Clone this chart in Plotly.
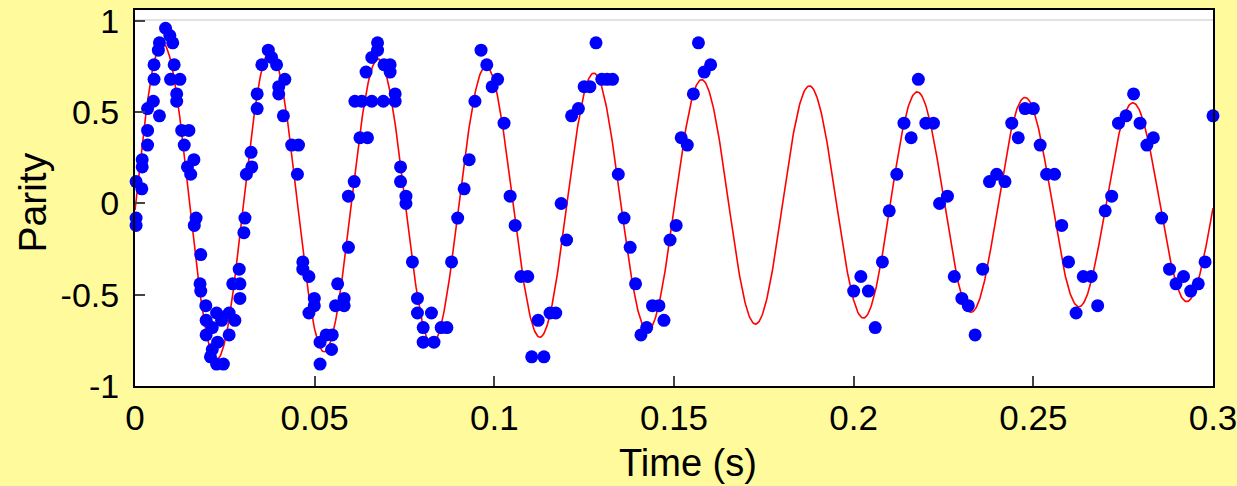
import numpy as np
import plotly.graph_objects as go

# Measured parity versus evolution time
time_s = [
    0.0003, 0.0003, 0.0003, 0.0019, 0.0020, 0.0020, 0.0035, 0.0035, 0.0035, 0.0051,
    0.0053, 0.0053, 0.0065, 0.0068, 0.0068, 0.0085, 0.0097, 0.0099, 0.0105, 0.0109,
    0.0116, 0.0116, 0.0125, 0.0130, 0.0137, 0.0146, 0.0150, 0.0155, 0.0164, 0.0170,
    0.0165, 0.0183, 0.0181, 0.0183, 0.0197, 0.0198, 0.0198, 0.0215, 0.0210, 0.0215,
    0.0227, 0.0227, 0.0230, 0.0246, 0.0241, 0.0262, 0.0262, 0.0272, 0.0278, 0.0290,
    0.0292, 0.0292, 0.0303, 0.0306, 0.0310, 0.0323, 0.0325, 0.0340, 0.0340, 0.0353,
    0.0371, 0.0380, 0.0394, 0.0400, 0.0400, 0.0413, 0.0417, 0.0436, 0.0455, 0.0452,
    0.0467, 0.0467, 0.0484, 0.0484, 0.0499, 0.0499, 0.0515, 0.0515, 0.0532, 0.0547,
    0.0549, 0.0558, 0.0564, 0.0582, 0.0582, 0.0594, 0.0594, 0.0610, 0.0612, 0.0626,
    0.0631, 0.0643, 0.0647, 0.0659, 0.0659, 0.0675, 0.0675, 0.0691, 0.0693, 0.0710,
    0.0710, 0.0724, 0.0724, 0.0739, 0.0739, 0.0754, 0.0754, 0.0772, 0.0786, 0.0786,
    0.0802, 0.0802, 0.0825, 0.0832, 0.0852, 0.0868, 0.0881, 0.0898, 0.0916, 0.0930,
    0.0946, 0.0963, 0.0979, 0.0994, 0.1009, 0.1027, 0.1044, 0.1058, 0.1074, 0.1093,
    0.1104, 0.1122, 0.1138, 0.1155, 0.1171, 0.1186, 0.1201, 0.1215, 0.1234, 0.1250,
    0.1266, 0.1283, 0.1299, 0.1314, 0.1329, 0.1345, 0.1361, 0.1378, 0.1393, 0.1408,
    0.1424, 0.1440, 0.1458, 0.1472, 0.1489, 0.1506, 0.1520, 0.1537, 0.1554, 0.1568,
    0.1584, 0.1602,
    0.2000, 0.2020, 0.2041, 0.2060, 0.2080, 0.2099, 0.2120, 0.2140, 0.2160, 0.2180,
    0.2201, 0.2222, 0.2239, 0.2261, 0.2280, 0.2301, 0.2319, 0.2338, 0.2359, 0.2378,
    0.2398, 0.2421, 0.2440, 0.2458, 0.2477, 0.2500, 0.2519, 0.2537, 0.2559, 0.2579,
    0.2598, 0.2619, 0.2639, 0.2661, 0.2679, 0.2700, 0.2718, 0.2737, 0.2758, 0.2779,
    0.2797, 0.2816, 0.2834, 0.2857, 0.2879, 0.2897, 0.2918, 0.2938, 0.2959, 0.2978,
    0.3000,
]
parity = [
    0.12, -0.08, -0.12, 0.08, 0.24, 0.20, 0.40, 0.32, 0.52, 0.56,
    0.68, 0.76, 0.84, 0.48, 0.88, 0.96, 0.92, 0.68, 0.88, 0.76,
    0.60, 0.56, 0.68, 0.40, 0.32, 0.20, 0.40, 0.16, 0.24, -0.08,
    -0.12, -0.28, -0.44, -0.48, -0.56, -0.64, -0.72, -0.68, -0.84, -0.80,
    -0.60, -0.88, -0.76, -0.88, -0.64, -0.60, -0.72, -0.44, -0.64, -0.36,
    -0.44, -0.52, -0.16, -0.08, 0.16, 0.28, 0.20, 0.60, 0.52, 0.76,
    0.84, 0.80, 0.76, 0.64, 0.60, 0.48, 0.68, 0.32, 0.32, 0.16,
    -0.32, -0.36, -0.40, -0.60, -0.52, -0.56, -0.76, -0.88, -0.72, -0.80,
    -0.72, -0.56, -0.44, -0.52, -0.56, -0.24, 0.04, 0.12, 0.56, 0.36,
    0.56, 0.72, 0.36, 0.80, 0.56, 0.84, 0.88, 0.56, 0.76, 0.76,
    0.72, 0.56, 0.60, 0.20, 0.12, 0.04, 0.00, -0.32, -0.52, -0.60,
    -0.68, -0.76, -0.60, -0.76, -0.68, -0.68, -0.32, -0.08, 0.08, 0.24,
    0.56, 0.84, 0.76, 0.64, 0.68, 0.44, 0.04, -0.12, -0.40, -0.40,
    -0.84, -0.64, -0.84, -0.60, -0.60, 0.00, -0.20, 0.48, 0.52, 0.64,
    0.64, 0.88, 0.68, 0.68, 0.68, 0.16, -0.08, -0.24, -0.44, -0.72,
    -0.68, -0.56, -0.56, -0.64, -0.20, -0.12, 0.36, 0.32, 0.60, 0.88,
    0.72, 0.76,
    -0.48, -0.40, -0.48, -0.68, -0.32, -0.04, 0.16, 0.44, 0.36, 0.68,
    0.44, 0.44, 0.00, 0.04, -0.40, -0.52, -0.56, -0.72, -0.36, 0.12,
    0.16, 0.12, 0.44, 0.36, 0.52, 0.52, 0.32, 0.16, 0.16, -0.12,
    -0.32, -0.60, -0.40, -0.40, -0.56, -0.04, 0.04, 0.44, 0.48, 0.60,
    0.44, 0.32, 0.36, -0.08, -0.36, -0.44, -0.40, -0.48, -0.44, -0.32,
    0.48,
]

# Damped-oscillation fit: A0 * exp(-t / tau) * cos(2*pi*f*(t - t_peak))
fit_amplitude = 0.89
fit_decay_s = 0.58
fit_freq_hz = 33.33
fit_peak_s = 0.0077
fit_t = np.linspace(0.0, 0.3, 1500)
fit_y = fit_amplitude * np.exp(-fit_t / fit_decay_s) * np.cos(
    2 * np.pi * fit_freq_hz * (fit_t - fit_peak_s)
)

x_ticks = [0, 0.05, 0.1, 0.15, 0.2, 0.25, 0.3]
x_tick_labels = ["0", "0.05", "0.1", "0.15", "0.2", "0.25", "0.3"]
y_ticks = [-1, -0.5, 0, 0.5, 1]
y_tick_labels = ["-1", "-0.5", "0", "0.5", "1"]

FONT = "Liberation Sans, Arial, sans-serif"

fig = go.Figure()
fig.add_trace(go.Scatter(
    x=fit_t, y=fit_y, mode="lines",
    line=dict(color="#FF0000", width=1.6),
    hoverinfo="skip", showlegend=False,
))
fig.add_trace(go.Scatter(
    x=time_s, y=parity, mode="markers",
    marker=dict(color="#0000FF", size=13, line=dict(width=0)),
    cliponaxis=False, showlegend=False,
))

# thin grey line along parity = 1
fig.add_shape(type="line", xref="paper", yref="y", x0=0, x1=1, y0=1.005, y1=1.005,
              line=dict(color="#D8D8D8", width=1.5), layer="below")

fig.update_layout(
    width=1237, height=486,
    autosize=False,
    margin=dict(l=135, r=24, t=10, b=100, autoexpand=False),
    paper_bgcolor="#FFFB9C",
    plot_bgcolor="#FFFFFF",
    font=dict(family=FONT, color="#000000"),
    showlegend=False,
    xaxis=dict(
        range=[0, 0.3], tickvals=x_ticks, ticktext=x_tick_labels,
        ticks="inside", ticklen=10, tickwidth=2, tickcolor="#444444",
        showline=True, linecolor="#000000", linewidth=2, mirror=True,
        showgrid=False, zeroline=False, automargin=False,
        ticklabeloverflow="allow",
        tickfont=dict(size=35, family=FONT, color="#000000"),
    ),
    yaxis=dict(
        range=[-1, 1.06], tickvals=y_ticks, ticktext=y_tick_labels,
        ticks="inside", ticklen=10, tickwidth=2, tickcolor="#444444",
        showline=True, linecolor="#000000", linewidth=2, mirror=True,
        showgrid=False, zeroline=False, automargin=False,
        ticklabelstandoff=7, ticklabeloverflow="allow",
        tickfont=dict(size=34, family=FONT, color="#000000"),
    ),
    annotations=[
        dict(text="Time (s)", xref="paper", yref="paper", x=0.513, y=-0.205,
             xanchor="center", yanchor="middle", showarrow=False,
             font=dict(size=38, family=FONT, color="#000000")),
        dict(text="Parity", xref="paper", yref="paper", x=-0.0955, y=0.488,
             xanchor="center", yanchor="middle", textangle=-90, showarrow=False,
             font=dict(size=39, family=FONT, color="#000000")),
    ],
)

fig.write_html("out.html")
